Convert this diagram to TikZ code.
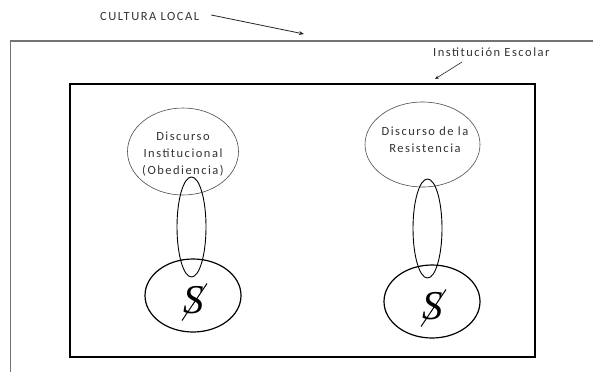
\documentclass[tikz,border=0pt]{standalone}
\usepackage{fontspec}
\setmainfont{Carlito}
\newfontfamily\widefont[LetterSpace=12]{Carlito}
\newfontfamily\serifS{Liberation Serif}
\usetikzlibrary{shapes.geometric,arrows.meta,calc}
\begin{document}
\begin{tikzpicture}[x=1pt,y=-1pt,
  lbl/.style={font=\widefont\fontsize{12.5}{14}\selectfont, text=black!80, inner sep=0pt},
  disc/.style={ellipse, draw=black!70, line width=0.6pt, align=center, inner sep=0pt,
     font=\widefont\fontsize{12.5}{17}\selectfont, text=black!80},
  link/.style={ellipse, draw=black, line width=0.9pt, inner sep=0pt},
  subj/.style={ellipse, draw=black, line width=1.2pt, inner sep=0pt},
  bigS/.style={inner sep=0pt, font=\serifS\itshape\fontsize{41}{41}\selectfont},
  pointer/.style={-{Stealth[length=5pt,width=4pt]}, line width=0.8pt, draw=black!85}]
\useasboundingbox (0,0) rectangle (593,372);
\fill[white] (0,0) rectangle (593,372);
% outer frame (cultura local)
\draw[black!55, line width=1.3pt] (10.5,372) -- (10.5,41) -- (593,41);
% inner frame (institucion escolar)
\node[draw=black, line width=1.6pt, minimum width=465pt, minimum height=273pt, inner sep=0pt] (inst) at (302.5,220.5) {};
% labels
\node[lbl, anchor=west] (cultura) at (100,16) {CULTURA LOCAL};
\coordinate (cultTip) at (304,34);
\draw[pointer] ($(cultura.east)+(12,-1)$) -- (cultTip);
\node[lbl, anchor=west] (escolar) at (433,52) {Institución Escolar};
\coordinate (escStart) at (462,62);
\coordinate (escTip) at (435,79);
\draw[pointer, line width=0.6pt, -{Stealth[length=4pt,width=3.5pt]}] (escStart) -- (escTip);
% left group
\node[disc, minimum width=111pt, minimum height=87pt] (dI) at (183,151.5) {};
\node[disc, draw=none, anchor=north] (tI) at (183,122) {Discurso\\Institucional\\(Obediencia)};
\node[link, minimum width=29pt, minimum height=100pt] (lI) at (191.5,227) {};
\node[subj, minimum width=96pt, minimum height=73pt] (sI) at (193,295.5) {};
\node[bigS] (SI) at (194,300) {S};
\draw[line width=1pt] ($(sI.center)+(-11,25)$) -- ($(sI.center)+(14,-12)$);
% right group
\node[disc, minimum width=115pt, minimum height=85pt] (dR) at (422.5,144.5) {};
\node[disc, draw=none, anchor=north] (tR) at (425,121) {Discurso de la\\Resistencia};
\node[link, minimum width=29pt, minimum height=99pt] (lR) at (427.5,228.5) {};
\node[subj, minimum width=96pt, minimum height=73pt] (sR) at (432,301.5) {};
\node[bigS] (SR) at (433,306) {S};
\draw[line width=1pt] ($(sR.center)+(-11,25)$) -- ($(sR.center)+(14,-12)$);
\end{tikzpicture}
\end{document}
